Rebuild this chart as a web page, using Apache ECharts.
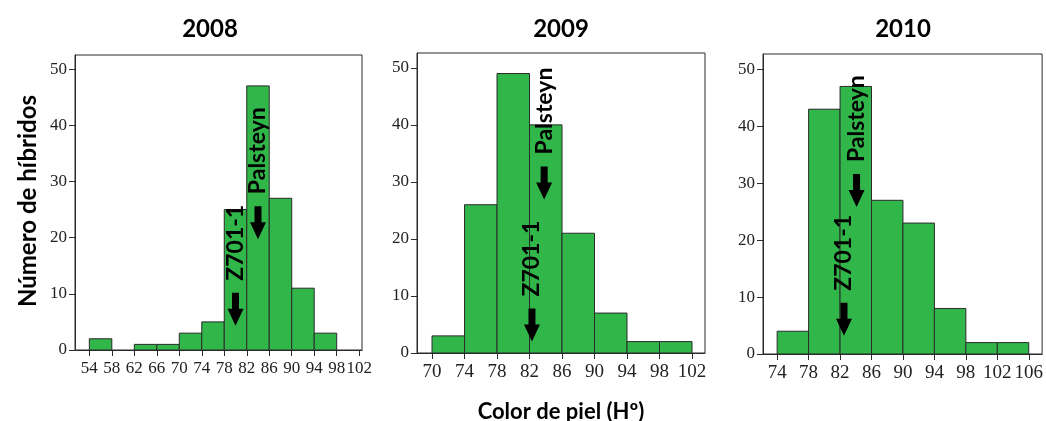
<!DOCTYPE html>
<html>
<head>
<meta charset="utf-8">
<script src="https://cdn.jsdelivr.net/npm/echarts@6/dist/echarts.min.js"></script>
<style>
  html, body { margin: 0; padding: 0; background: #fff; }
  #chart { width: 1046px; height: 421px; }
</style>
</head>
<body>
<div id="chart"></div>
<script>
const years = ['2008', '2009', '2010'];
const binWidth = 4;

const binStarts2008 = [54, 58, 62, 66, 70, 74, 78, 82, 86, 90, 94];
const counts2008 = [2, 0, 1, 1, 3, 5, 25, 47, 27, 11, 3];
const binStarts2009 = [70, 74, 78, 82, 86, 90, 94, 98];
const counts2009 = [3, 26, 49, 40, 21, 7, 2, 2];
const binStarts2010 = [74, 78, 82, 86, 90, 94, 98, 102];
const counts2010 = [4, 43, 47, 27, 23, 8, 2, 2];

const xTicks2008 = [54, 58, 62, 66, 70, 74, 78, 82, 86, 90, 94, 98, 102];
const xTicks2009 = [70, 74, 78, 82, 86, 90, 94, 98, 102];
const xTicks2010 = [74, 78, 82, 86, 90, 94, 98, 102, 106];
const yTicks = [0, 10, 20, 30, 40, 50];

// parent cultivars: colour value (Hº) and height where the arrow starts, per year
const z701X = [80, 82.3, 82.5];
const z701Y = [10.2, 7.8, 9.0];
const palsteynX = [84, 83.8, 84.1];
const palsteynY = [25.6, 32.7, 31.6];

const panels = [
  { starts: binStarts2008, counts: counts2008, ticks: xTicks2008, xMin: 51.45, xMax: 102.5, yMax: 52.5,
    grid: { left: 75, top: 55, width: 287, height: 295 }, labelSize: 17 },
  { starts: binStarts2009, counts: counts2009, ticks: xTicks2009, xMin: 68.15, xMax: 103.6, yMax: 52.6,
    grid: { left: 417, top: 53, width: 288, height: 300 }, labelSize: 19 },
  { starts: binStarts2010, counts: counts2010, ticks: xTicks2010, xMin: 72.2, xMax: 107.7, yMax: 52.7,
    grid: { left: 763, top: 54, width: 281, height: 300 }, labelSize: 19 }
];

const serif = '"Liberation Serif", "DejaVu Serif", serif';
const sans = 'Lato, "Open Sans", sans-serif';

function renderBar(params, api) {
  const start = api.value(0);
  const count = api.value(1);
  if (!count) return null;
  const p0 = api.coord([start, count]);
  const p1 = api.coord([start + binWidth, 0]);
  return {
    type: 'rect',
    shape: { x: p0[0], y: p0[1], width: p1[0] - p0[0], height: p1[1] - p0[1] },
    style: { fill: '#31b64a', stroke: '#2b2b2b', lineWidth: 1 }
  };
}

function renderMarker(params, api) {
  const p = api.coord([api.value(0), api.value(1)]);
  const name = api.value(2);
  const x = p[0], y = p[1];
  return {
    type: 'group',
    children: [
      {
        type: 'polygon',
        shape: { points: [
          [x - 3.5, y], [x + 3.5, y], [x + 3.5, y + 16], [x + 8, y + 16],
          [x, y + 33], [x - 8, y + 16], [x - 3.5, y + 16]
        ] },
        style: { fill: '#000' }
      },
      {
        type: 'text',
        x: x, y: y - 12, rotation: Math.PI / 2,
        style: { text: name, fill: '#000', font: 'bold 23px ' + sans, align: 'left', verticalAlign: 'middle' }
      }
    ]
  };
}

const option = {
  animation: false,
  backgroundColor: '#fff',
  title: years.map((y, i) => ({
    text: y,
    left: [205, 556, 898][i], top: 12, textAlign: 'center',
    textStyle: { fontFamily: sans, fontWeight: 'bold', fontSize: 24, color: '#000' }
  })).concat([{
    text: 'Color de piel (Hº)',
    left: 556, top: 396, textAlign: 'center',
    textStyle: { fontFamily: sans, fontWeight: 'bold', fontSize: 22, color: '#000' }
  }]),
  graphic: [{
    type: 'text', x: 28, y: 201, rotation: Math.PI / 2,
    style: { text: 'Número de híbridos', font: 'bold 24px ' + sans, fill: '#000', align: 'center', verticalAlign: 'middle' }
  }],
  grid: panels.map((p) => Object.assign({ show: true, borderColor: '#2b2b2b', borderWidth: 1, backgroundColor: 'transparent' }, p.grid)),
  xAxis: panels.map((p, i) => ({
    type: 'value', gridIndex: i, min: p.xMin, max: p.xMax,
    splitLine: { show: false },
    axisLine: { show: true, onZero: false, lineStyle: { color: '#2b2b2b' } },
    axisTick: { show: true, length: 6, lineStyle: { color: '#2b2b2b' }, customValues: p.ticks },
    axisLabel: { customValues: p.ticks, margin: 10, fontFamily: serif, fontSize: p.labelSize, color: '#222' }
  })),
  yAxis: panels.map((p, i) => ({
    type: 'value', gridIndex: i, min: 0, max: p.yMax,
    splitLine: { show: false },
    axisLine: { show: true, lineStyle: { color: '#2b2b2b' } },
    axisTick: { show: true, length: 6, lineStyle: { color: '#2b2b2b' }, customValues: yTicks },
    axisLabel: { customValues: yTicks, margin: 8, fontFamily: serif, fontSize: 17, color: '#222' }
  })),
  series: panels.map((p, i) => ({
    type: 'custom', xAxisIndex: i, yAxisIndex: i, silent: true,
    renderItem: renderBar,
    encode: { x: 0, y: 1 },
    data: p.starts.map((s, k) => [s, p.counts[k]])
  })).concat(panels.map((p, i) => ({
    type: 'custom', xAxisIndex: i, yAxisIndex: i, silent: true, z: 5,
    renderItem: renderMarker,
    dimensions: ['x', 'y', { name: 'name', type: 'ordinal' }],
    data: [[z701X[i], z701Y[i], 'Z701-1'], [palsteynX[i], palsteynY[i], 'Palsteyn']]
  })))
};

const chart = echarts.init(document.getElementById('chart'));
chart.setOption(option);
</script>
</body>
</html>
